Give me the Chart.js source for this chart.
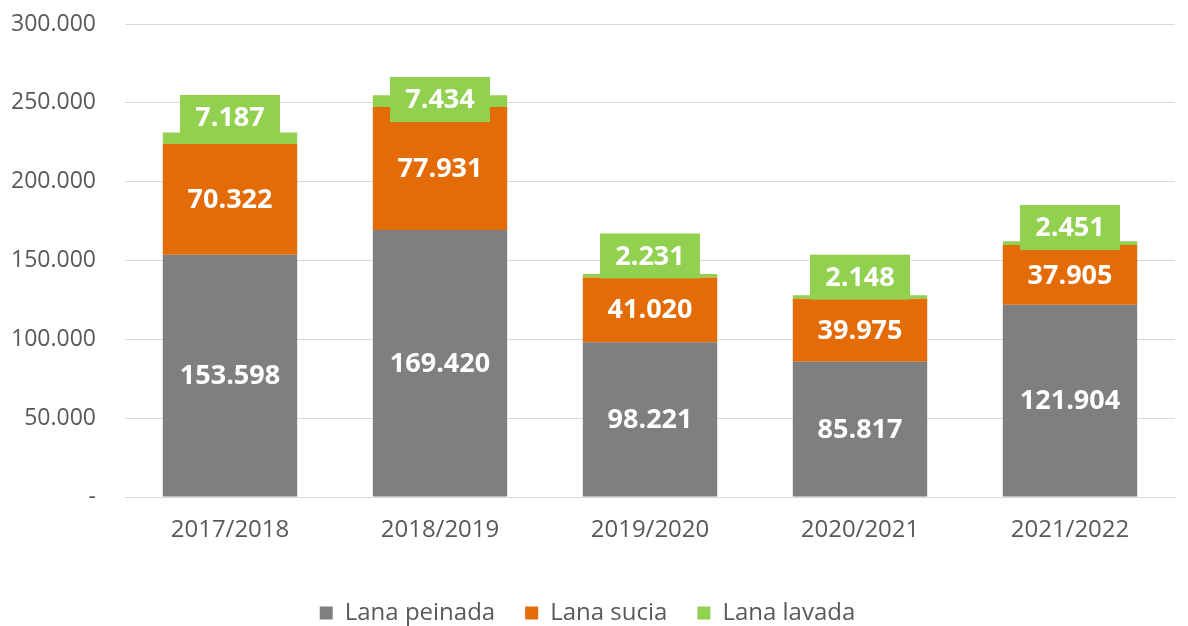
<!DOCTYPE html>
<html>
<head>
<meta charset="utf-8">
<script src="https://cdn.jsdelivr.net/npm/chart.js@4.4.1/dist/chart.umd.min.js"></script>
<style>
  html, body { margin: 0; padding: 0; background: #fff; }
  #wrap { width: 1188px; height: 626px; }
</style>
</head>
<body>
<div id="wrap"><canvas id="lanaChart"></canvas></div>
<script>
var temporadas = ['2017/2018', '2018/2019', '2019/2020', '2020/2021', '2021/2022'];
var lanaPeinada = [153598, 169420, 98221, 85817, 121904];
var lanaSucia = [70322, 77931, 41020, 39975, 37905];
var lanaLavada = [7187, 7434, 2231, 2148, 2451];
var yTicks = [0, 50000, 100000, 150000, 200000, 250000, 300000];

function miles(v) {
  if (v === 0) return '-';
  return String(v).replace(/\B(?=(\d{3})+(?!\d))/g, '.');
}

var fuente = "'Open Sans', 'Liberation Sans', sans-serif";

// etiquetas de valor dentro de las barras
// (las de "Lana lavada" van en una caja verde, movidas a mano como en el original)
var etiquetas = {
  id: 'etiquetas',
  afterDatasetsDraw: function(chart, args, opts) {
    var ctx = chart.ctx;
    ctx.save();
    ctx.font = 'bold 27px ' + fuente;
    ctx.textAlign = 'center';
    ctx.textBaseline = 'middle';
    chart.data.datasets.forEach(function(ds, i) {
      var meta = chart.getDatasetMeta(i);
      meta.data.forEach(function(bar, j) {
        var txt = miles(ds.data[j]);
        var cy = (bar.y + bar.base) / 2;
        if (i === 2) {
          var abajo = bar.base + (opts.ajuste[j] || 0);
          cy = abajo - 22.5;
          ctx.fillStyle = '#92d050';
          ctx.fillRect(bar.x - 50, abajo - 45, 100, 45);
        }
        ctx.fillStyle = '#ffffff';
        ctx.fillText(txt, bar.x, cy + 1);
      });
    });
    ctx.restore();
  }
};

const data = {
  labels: temporadas,
  datasets: [{
    label: 'Lana peinada',
    backgroundColor: '#7f7f7f',
    data: lanaPeinada
  }, {
    label: 'Lana sucia',
    backgroundColor: '#e36c09',
    data: lanaSucia
  }, {
    label: 'Lana lavada',
    backgroundColor: '#92d050',
    data: lanaLavada
  }]
};

const config = {
  type: 'bar',
  data,
  options: {
    responsive: true,
    maintainAspectRatio: false,
    animation: false,
    categoryPercentage: 0.64,
    barPercentage: 1,
    layout: { padding: { top: 24, right: 13, left: 0, bottom: -9 } },
    plugins: {
      tooltip: { enabled: false },
      etiquetas: { ajuste: [-4, 15, 1, 1, 5] },
      legend: {
        position: 'bottom',
        labels: {
          boxWidth: 13,
          boxHeight: 13,
          padding: 30,
          color: '#595959',
          font: { family: fuente, size: 24 }
        }
      }
    },
    scales: {
      x: {
        stacked: true,
        grid: { display: false },
        border: { display: true, color: '#d9d9d9' },
        ticks: { color: '#595959', font: { family: fuente, size: 24 }, padding: 11 },
        afterFit: function(s) { s.height = 74; }
      },
      y: {
        stacked: true,
        min: 0,
        max: 300000,
        border: { display: false },
        grid: { color: '#d9d9d9', drawTicks: false },
        afterBuildTicks: function(s) { s.ticks = yTicks.map(function(v) { return { value: v }; }); },
        afterFit: function(s) {
          s.width = 125;
          s.paddingTop = 0;
          s.paddingBottom = 0;
        },
        ticks: {
          color: '#595959',
          padding: 29,
          font: { family: fuente, size: 23 },
          callback: function(v) { return miles(v); }
        }
      }
    }
  },
  plugins: [etiquetas]
};

var myChart = new Chart(document.getElementById('lanaChart'), config);
</script>
</body>
</html>
